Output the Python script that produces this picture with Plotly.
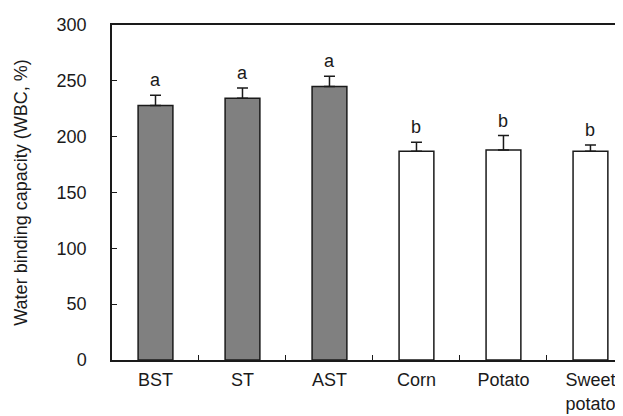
import plotly.graph_objects as go

categories = ["BST", "ST", "AST", "Corn", "Potato", "Sweet<br>potato"]
wbc_mean = [228, 234.5, 245, 187, 188, 187]
wbc_err = [9, 9, 9, 8, 13, 5.5]
letters = ["a", "a", "a", "b", "b", "b"]
bar_colors = ["#808080", "#808080", "#808080", "#ffffff", "#ffffff", "#ffffff"]
y_ticks = [0, 50, 100, 150, 200, 250, 300]

font_family = "Liberation Sans, Arial, sans-serif"

fig = go.Figure()
fig.add_trace(go.Bar(
    x=categories,
    y=wbc_mean,
    width=0.40,
    marker=dict(color=bar_colors, line=dict(color="#1a1a1a", width=1.5)),
    error_y=dict(type="data", symmetric=False, array=wbc_err,
                 arrayminus=[0] * len(wbc_err),
                 color="#1a1a1a", thickness=1.5, width=5.5),
    showlegend=False,
    hoverinfo="skip",
))

for c, m, e, t in zip(categories, wbc_mean, wbc_err, letters):
    fig.add_annotation(x=c, y=m + e, text=t, showarrow=False,
                       yanchor="bottom", yshift=3,
                       font=dict(family=font_family, size=18, color="#1a1a1a"))

fig.update_layout(
    width=623, height=416,
    margin=dict(l=104, r=0, t=17, b=64),
    paper_bgcolor="white", plot_bgcolor="white",
    font=dict(family=font_family, size=18, color="#1a1a1a"),
)
fig.update_xaxes(
    range=[-0.5, 5.466],
    showline=True, linecolor="#1a1a1a", linewidth=1.5, mirror=True,
    ticks="inside", tickson="boundaries", ticklen=5, tickcolor="#1a1a1a",
    tickwidth=1.2, showgrid=False, ticklabelstandoff=3,
    tickfont=dict(family=font_family, size=18, color="#1a1a1a"),
)
fig.update_yaxes(
    range=[0, 300], tickvals=y_ticks,
    showline=True, linecolor="#1a1a1a", linewidth=1.5,
    ticks="inside", ticklen=5, tickcolor="#1a1a1a", tickwidth=1.2,
    showgrid=False, zeroline=False, ticklabelstandoff=20,
    tickfont=dict(family=font_family, size=18, color="#1a1a1a"),
    title=dict(text="Water binding capacity (WBC, %)", standoff=24,
               font=dict(family=font_family, size=18, color="#1a1a1a")),
)

fig.write_html("out.html")
